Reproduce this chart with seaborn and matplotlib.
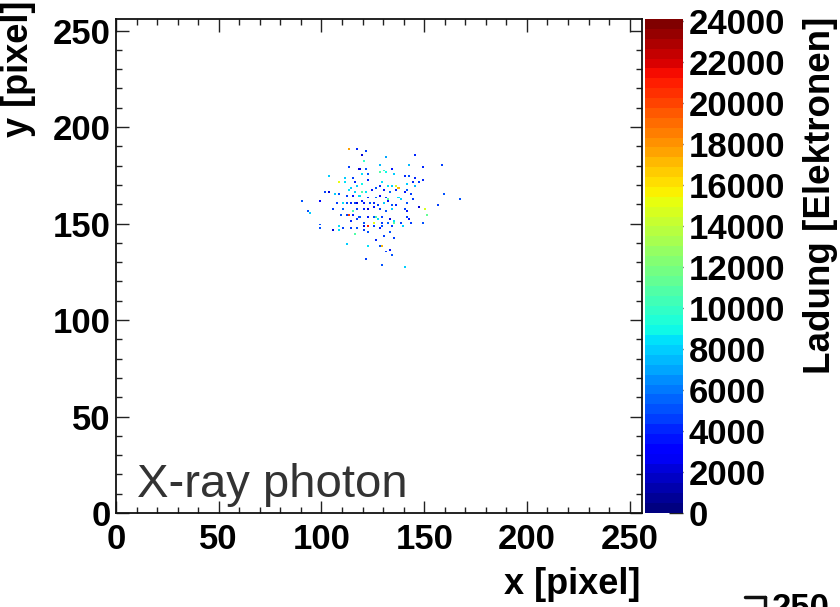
import numpy as np
import pandas as pd
import matplotlib
matplotlib.use("Agg")
import matplotlib.pyplot as plt
from matplotlib.colors import ListedColormap
from matplotlib.ticker import MultipleLocator
import seaborn as sns

sns.set_style("white")
plt.rcParams["font.family"] = ["Liberation Sans", "DejaVu Sans"]
plt.rcParams["text.color"] = "black"
plt.rcParams["xtick.labelcolor"] = "black"
plt.rcParams["ytick.labelcolor"] = "black"

# ---- data: hit pixels (column, row) and collected charge in electrons ----
pix_x = [113, 117, 119, 121, 131, 145, 120, 113, 118, 121, 128, 134, 142, 149, 158,
         119, 122, 128, 130, 131, 135, 140, 142, 145, 103, 111, 115, 108, 111, 116,
         117, 119, 122, 129, 132, 134, 136, 137, 141, 144, 147, 149, 145, 101, 103,
         106, 108, 113, 114, 116, 119, 121, 124, 126, 128, 130, 133, 136, 140, 141,
         143, 159, 112, 115, 118, 122, 126, 128, 131, 132, 137, 138, 141, 144, 167,
         156, 90, 99, 107, 110, 112, 114, 116, 117, 119, 120, 123, 125, 127, 130,
         132, 134, 136, 147, 93, 94, 105, 110, 115, 117, 120, 122, 125, 128, 131,
         134, 140, 141, 150, 109, 112, 113, 115, 118, 122, 125, 126, 127, 129, 133,
         135, 141, 142, 151, 149, 143, 99, 114, 117, 120, 125, 129, 132, 135, 138,
         108, 110, 99, 105, 108, 114, 117, 120, 122, 125, 128, 129, 134, 139, 120,
         122, 116, 126, 130, 133, 135, 112, 122, 128, 129, 131, 133, 134, 121, 129,
         140]
pix_y = [188, 188, 185, 187, 184, 185, 182, 179, 178, 178, 180, 178, 180, 179, 180,
         175, 175, 176, 177, 176, 175, 174, 174, 173, 174, 173, 173, 171, 171, 171,
         169, 170, 172, 171, 169, 169, 169, 168, 170, 171, 171, 172, 169, 166, 166,
         165, 165, 167, 168, 166, 166, 166, 167, 168, 169, 167, 166, 167, 166, 167,
         165, 165, 164, 164, 164, 163, 163, 164, 163, 162, 163, 162, 160, 162, 162,
         159, 161, 161, 160, 160, 160, 160, 160, 160, 161, 160, 160, 160, 159, 160,
         161, 159, 159, 158, 156, 155, 157, 157, 156, 157, 157, 157, 158, 157, 156,
         157, 157, 156, 157, 154, 154, 154, 154, 153, 153, 153, 153, 152, 153, 152,
         151, 153, 152, 154, 150, 150, 149, 151, 152, 150, 150, 150, 150, 150, 150,
         148, 147, 147, 146, 146, 147, 147, 148, 148, 148, 147, 148, 148, 148, 146,
         145, 144, 141, 143, 145, 142, 139, 138, 138, 138, 135, 136, 133, 131, 128,
         127]
charge = [17500, 4000, 2000, 4500, 7000, 4000, 10000, 4500, 2000, 5000, 7500, 3500, 7500, 4000, 4500,
          8500, 5000, 11000, 10000, 9000, 8000, 4000, 5000, 4000, 8000, 8000, 4500, 15000, 8500, 4000,
          8000, 9000, 4000, 8500, 8500, 8000, 14500, 17000, 8000, 4000, 4500, 4000, 7500, 4500, 2000,
          8000, 5000, 8500, 8000, 8000, 11000, 8500, 3500, 5000, 4000, 3500, 5500, 4000, 3500, 5000,
          4500, 5000, 4500, 3500, 8500, 4000, 5500, 3000, 4500, 11000, 8500, 8000, 5000, 4500, 5000,
          4500, 5000, 3000, 4500, 8500, 5000, 4000, 4500, 2000, 4000, 3500, 5000, 4000, 4500, 8000,
          3500, 5000, 4000, 2000, 5000, 8000, 4500, 5500, 10500, 4500, 4000, 2000, 3500, 4500, 5000,
          8000, 4500, 3500, 14500, 5000, 4500, 20000, 4000, 5000, 3500, 5000, 11000, 8500, 4500, 2000,
          8500, 4500, 3500, 11500, 5000, 4500, 5000, 4000, 4500, 5000, 15000, 4500, 5500, 11000, 4500,
          8500, 4500, 5000, 2000, 8500, 4500, 5000, 2000, 21000, 4500, 3500, 5000, 4500, 8000, 4500,
          5000, 11000, 4000, 4500, 5000, 4500, 8000, 8500, 5000, 17000, 4500, 3500, 5000, 4500, 5000,
          8000]

x_ticks = [0, 50, 100, 150, 200, 250]
y_ticks = [0, 50, 100, 150, 200, 250]
cbar_ticks = [0, 2000, 4000, 6000, 8000, 10000, 12000, 14000, 16000, 18000, 20000, 22000, 24000]
n_pix = 256
q_max = 24100

# ---- build pixel matrix ----
grid = np.full((n_pix, n_pix), np.nan)
for cx, cy, q in zip(pix_x, pix_y, charge):
    grid[cy, cx] = q
df = pd.DataFrame(grid)

cmap = ListedColormap(plt.get_cmap("jet")(np.linspace(0, 1, 50)))

fig = plt.figure(figsize=(8.4, 6.07), dpi=100)
W, H = 840, 607
ax = fig.add_axes([116 / W, 1 - 513 / H, 526 / W, 494 / H])
cax = fig.add_axes([645 / W, 1 - 513 / H, 38 / W, 494 / H])

sns.heatmap(df, ax=ax, cbar_ax=cax, cmap=cmap, vmin=0, vmax=q_max,
            xticklabels=False, yticklabels=False,
            cbar_kws={"ticks": cbar_ticks})

ax.set_xlim(0, n_pix)
ax.set_ylim(0, n_pix)
for s in ax.spines.values():
    s.set_visible(True)
    s.set_color("#111111")
    s.set_linewidth(1.3)

ax.set_xticks(x_ticks)
ax.set_xticklabels([str(t) for t in x_ticks])
ax.set_yticks(y_ticks)
ax.set_yticklabels([str(t) for t in y_ticks])
ax.xaxis.set_minor_locator(MultipleLocator(10))
ax.yaxis.set_minor_locator(MultipleLocator(10))
ax.tick_params(which="both", direction="in", top=True, right=True,
               bottom=True, left=True, color="#222222", width=1.0)
ax.tick_params(which="major", length=9)
ax.tick_params(which="minor", length=4.5)
ax.tick_params(axis="x", which="major", labelsize=25, pad=7, labelcolor="black")
ax.tick_params(axis="y", which="major", labelsize=25, pad=4, labelcolor="black")
for lab in ax.get_xticklabels() + ax.get_yticklabels():
    lab.set_fontweight("bold")
ax.set_xlabel("")
ax.set_ylabel("")

cbar = ax.collections[0].colorbar
cbar.outline.set_visible(False)
cax.tick_params(direction="in", length=10, width=1.0, color="#222222",
                labelsize=25, pad=4, right=True, left=False, labelcolor="black")
for lab in cax.get_yticklabels():
    lab.set_fontweight("bold")

# titles
fig.text(640 / W, 1 - 584 / H, "x [pixel]", ha="right", va="center",
         fontsize=26, fontweight="bold", color="black")
fig.text(19 / W, 1 - 1 / H, "y [pixel]", ha="center", va="top",
         rotation=90, fontsize=26, fontweight="bold", color="black")
fig.text(820 / W, 1 - 17 / H, "Ladung [Elektronen]", ha="center", va="top",
         rotation=90, fontsize=26.5, fontweight="bold", color="black")
fig.text(137 / W, 1 - 497 / H, "X-ray photon", ha="left", va="baseline",
         fontsize=34, color="#333333")

# fragment of neighbouring panel at bottom-right corner
fig.text(772 / W, 1 - 592 / H, "250", ha="left", va="top",
         fontsize=25, fontweight="bold", color="black")
fig.add_artist(plt.Line2D([745 / W, 765 / W], [1 - 597 / H, 1 - 597 / H],
                          transform=fig.transFigure, color="#111111", lw=2.5))
fig.add_artist(plt.Line2D([765 / W, 765 / W], [1 - 597 / H, 0],
                          transform=fig.transFigure, color="#111111", lw=2.5))

fig.savefig("out.png", dpi=100)
